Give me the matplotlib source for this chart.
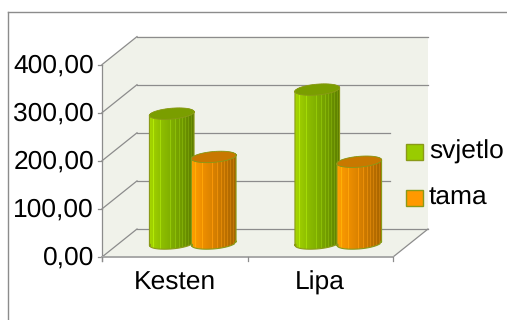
"""Grafikon: valjci svjetlo / tama za kesten i lipu."""

import numpy as np
import matplotlib
matplotlib.use('Agg')
import matplotlib.pyplot as plt
from matplotlib.colors import to_rgb
from matplotlib.patches import Polygon

plt.rcParams['font.family'] = ['Liberation Sans', 'DejaVu Sans']
plt.rcParams['text.hinting'] = 'no_hinting'

# Podaci
kategorije = ['Kesten', 'Lipa']
serije = ['svjetlo', 'tama']
svjetlo = [270, 320]
tama = [180, 170]
oznake_y = ['0,00', '100,00', '200,00', '300,00', '400,00']
vrijednosti_y = [0, 100, 200, 300, 400]

# Geometrija u pikselima, vrijednosti po y idu kroz skalu osi
SKALA = 0.481  # px po jedinici
X0, X1 = 102, 393
Y0_PX = 257
DX, DY_PX = 35, 28
DY = DY_PX / SKALA
SIVA = '#8c8c8c'
ZID = '#f0f2ea'
RUB = '#8a9a18'
LW = 0.9
FONT = 19

GRAD_ZELENA = ['#a6d600', '#8fc000', '#7fae00', '#6f9800', '#5d7d00']
GRAD_NARANCA = ['#ffa000', '#ee8f00', '#d98100', '#bf7200', '#a66400']


def px(y):
    """Pretvara pomak u pikselima u jedinice y osi."""
    return y / SKALA


def elipsa(cx, cy, a=22.4, b=5.4, kut=-5, n=80):
    t = np.linspace(0, 2 * np.pi, n)
    k = np.radians(kut)
    xe = a * np.cos(t) * np.cos(k) - b * np.sin(t) * np.sin(k)
    ye = -(a * np.cos(t) * np.sin(k) + b * np.sin(t) * np.cos(k))
    return np.column_stack([cx + xe, cy + px(ye)])


def gradijent(boje, n=45):
    """Vodoravni prijelaz boja s tankim svijetlim prugama."""
    stops = np.array([to_rgb(b) for b in boje])
    pos = np.linspace(0, 1, len(boje))
    u = np.linspace(0, 1, n)
    img = np.column_stack([np.interp(u, pos, stops[:, c]) for c in range(3)])
    for i in [4, 11, 21, 26, 30, 33, 36, 39, 42]:
        img[i] = np.clip(img[i] * 1.1 + 0.03, 0, 1)
    return img[np.newaxis, :, :]


def valjak(ax, cx, vrijednost, boje, vrh, z):
    baza = elipsa(cx, 0 + px(Y0_PX - 243.5))
    gore = elipsa(cx, vrijednost + px(Y0_PX - 243.5))
    a = 22.4

    # tijelo valjka: gornji vrh, pa donji rub elipse
    donji = baza[(baza[:, 1] <= baza[:, 1].mean()) | (np.abs(baza[:, 0] - cx) > a - 0.5)]
    donji = donji[np.argsort(donji[:, 0])]
    gornji = gore[np.argsort(gore[:, 0])][::-1]
    obris = np.vstack([donji, gornji])

    tijelo = Polygon(obris, closed=True, fc='none', ec=RUB, lw=0.8, zorder=z + 0.2)
    ax.add_patch(tijelo)
    im = ax.imshow(gradijent(boje), extent=[cx - a, cx + a, baza[:, 1].min(), gore[:, 1].max()],
                   aspect='auto', interpolation='bilinear', zorder=z)
    im.set_clip_path(Polygon(obris, closed=True, transform=ax.transData))
    ax.add_patch(Polygon(gore, closed=True, fc=vrh, ec=RUB, lw=0.6, zorder=z + 0.3))


def main():
    fig = plt.figure(figsize=(5.07, 3.2), dpi=100, facecolor='white')
    ax = fig.add_axes([0, 0, 1, 1])

    # zidovi i pod
    vrh = 400
    ax.add_patch(Polygon([(X0, 0), (X0, vrh), (X0 + DX, vrh + DY), (X1 + DX, vrh + DY),
                          (X1 + DX, DY), (X1, 0)], closed=True, fc=ZID, ec='none', zorder=1))

    # mreza
    for v in vrijednosti_y:
        ax.plot([X0, X0 + DX], [v, v + DY], color=SIVA, lw=LW, zorder=2)
        kraj = X1 + DX if v in (0, 300, 400) else 390
        ax.plot([X0 + DX, kraj], [v + DY, v + DY], color=SIVA, lw=LW, zorder=2)
        ax.plot([X0 - 4, X0], [v, v], color=SIVA, lw=LW, zorder=2)
    ax.plot([X1, X1 + DX], [0, DY], color=SIVA, lw=LW, zorder=2)

    # osi
    ax.plot([X0, X0], [px(-4), vrh], color=SIVA, lw=LW, zorder=2)
    ax.plot([X0, X1], [0, 0], color='#a8a8a8', lw=1.4, zorder=2)
    sirina = (X1 - X0) / len(kategorije)
    for i in range(len(kategorije) + 1):
        ax.plot([X0 + i * sirina] * 2, [px(-4), 0], color=SIVA, lw=LW, zorder=2)

    # okvir
    ax.plot([8, 8], [px(Y0_PX - 320), px(Y0_PX - 12)], color=SIVA, lw=1.0, zorder=2)
    ax.plot([8, 507], [px(Y0_PX - 12), px(Y0_PX - 12)], color=SIVA, lw=1.0, zorder=2)

    # valjci
    for i in range(len(kategorije)):
        sredina = X0 + sirina * (i + 0.5) + DX / 2 + 0.5
        valjak(ax, sredina - 21, svjetlo[i], GRAD_ZELENA, '#7a9e00', 4 + i * 2)
        valjak(ax, sredina + 21, tama[i], GRAD_NARANCA, '#c87800', 5 + i * 2)
        ax.text(X0 + sirina * (i + 0.5), px(Y0_PX - 283), kategorije[i], ha='center', va='center',
                fontsize=FONT, color='black', zorder=10)

    # oznake y osi
    for v, t in zip(vrijednosti_y, oznake_y):
        ax.text(94, v - px(1), t, ha='right', va='center', fontsize=FONT, color='black', zorder=10)

    # legenda
    for s, boja, yc in zip(serije, ['#99cc00', '#ff9900'], [151.5, 198]):
        ax.add_patch(Polygon([(406, px(Y0_PX - yc - 8)), (422.5, px(Y0_PX - yc - 8)),
                              (422.5, px(Y0_PX - yc + 8)), (406, px(Y0_PX - yc + 8))],
                             closed=True, fc=boja, ec=RUB, lw=1, zorder=10))
        ax.text(429, px(Y0_PX - yc), s, ha='left', va='center', fontsize=FONT,
                color='black', zorder=10)

    ax.set_xlim(0, 507)
    ax.set_ylim(px(Y0_PX - 320), px(Y0_PX))
    ax.axis('off')

    fig.savefig('out.png', dpi=100, facecolor='white')
    plt.close(fig)


if __name__ == "__main__":
    main()
